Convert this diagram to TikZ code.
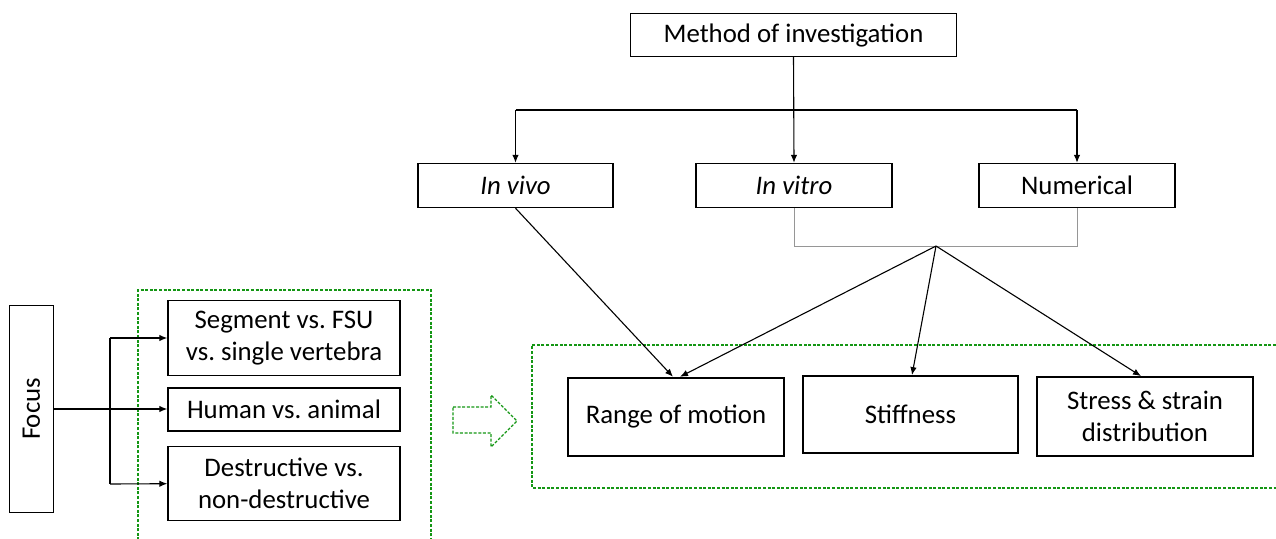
\documentclass[tikz,border=0pt]{standalone}
\usepackage{fontspec}
\usepackage{graphicx}
\setmainfont{Carlito}
\usetikzlibrary{arrows.meta}
\definecolor{dgreen}{RGB}{20,150,20}
\definecolor{lgray}{RGB}{150,150,150}
\tikzset{
  box/.style={draw=black, line width=1.4pt, inner sep=0pt, align=center, fill=white,
    font=\fontsize{26.8}{32}\selectfont\frenchspacing},
  arr/.style={line width=1.1pt, -{Latex[length=8pt,width=6.5pt]}},
  conn/.style={line width=1.1pt},
  gbox/.style={draw=dgreen, line width=1.3pt, dash pattern=on 3pt off 1.6pt},
  graybr/.style={draw=lgray, line width=1pt}
}
\begin{document}
\begin{tikzpicture}[x=1pt,y=-1pt]
\useasboundingbox (0,0) rectangle (1276,538);
% green dashed frames
\draw[gbox] (138,545) -- (138,290) -- (431,290) -- (431,545);
\draw[gbox] (1285,345) -- (532,345) -- (532,488) -- (1285,488);
% hollow arrow
\draw[gbox, line width=1.1pt] (453,407) -- (491,407) -- (491,395) -- (517,421) -- (491,447) -- (491,433) -- (453,433) -- cycle;

% top nodes
\node[box, minimum width=326pt, minimum height=43pt] (method) at (793.5,35) {Method of investigation};
\node[box, minimum width=195pt, minimum height=44pt] (vivo) at (515.5,185.5) {\itshape In vivo};
\node[box, minimum width=196pt, minimum height=44pt] (vitro) at (794,185.5) {\itshape In vitro};
\node[box, minimum width=196pt, minimum height=44pt] (num) at (1077,185.5) {Numerical};

% bottom right nodes
\node[box, line width=2.4pt, minimum width=216pt, minimum height=78pt] (range) at (676,417) {Range of motion};
\node[box, minimum width=215pt, minimum height=77pt] (stiff) at (910.5,414.3) {Stiffness};
\node[box, minimum width=216pt, minimum height=79pt] (stress) at (1145,416.3) {Stress \& strain\\distribution};

% left nodes
\node[box, minimum width=44pt, minimum height=207pt] (focus) at (31.3,409) {\rotatebox{90}{Focus}};
\node[box, minimum width=232pt, minimum height=75pt] (seg) at (284,338) {Segment vs. FSU\\vs. single vertebra};
\node[box, minimum width=232pt, minimum height=43pt] (human) at (284,409.3) {Human vs. animal};
\node[box, minimum width=232pt, minimum height=74pt] (dest) at (284,483.7) {Destructive vs.\\non-destructive};

% top connectors
\coordinate (hl) at (515.5,110);
\coordinate (hr) at (1077,110);
\draw[conn] (hl) -- (hr);
\draw[arr] (method.south) -- (vitro.north);
\draw[arr] (hl) -- (vivo.north);
\draw[arr] (hr) -- (num.north);

% gray bracket
\coordinate (j) at (936,246);
\draw[graybr] (vitro.south) -- (vitro.south |- j) -- (num.south |- j) -- (num.south);

% to outcomes
\draw[arr] (vivo.south) -- ([xshift=-3pt]range.north);
\draw[arr] (j) -- ([xshift=4pt]range.north);
\draw[arr] (j) -- ([xshift=1.5pt]stiff.north);
\draw[arr] (j) -- ([xshift=-4pt]stress.north);

% focus connectors
\coordinate (vt) at (110,338);
\coordinate (vb) at (110,484);
\draw[conn] (vt) -- (vb);
\draw[arr] (focus.east) -- (focus.east -| human.west);
\draw[arr] (vt) -- (seg.west);
\draw[arr] (vb) -- (dest.west);
\end{tikzpicture}
\end{document}
